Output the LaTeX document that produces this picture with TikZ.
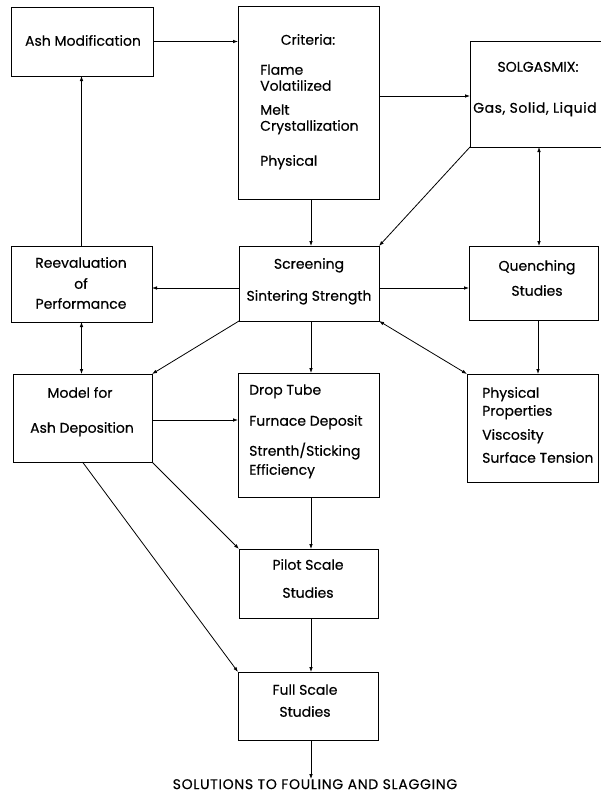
\documentclass[tikz,border=0pt]{standalone}
\usepackage{fontspec}
\setmainfont{Poppins}[FakeBold=0.4]
\usetikzlibrary{arrows.meta}
\begin{document}
\begin{tikzpicture}[x=1pt,y=-1pt,
  box/.style={draw,line width=0.9pt,inner sep=0pt,outer sep=0pt},
  arr/.style={line width=0.8pt,-{Latex[length=5pt,width=3.6pt]}},
  darr/.style={line width=0.8pt,{Latex[length=5pt,width=3.6pt]}-{Latex[length=5pt,width=3.6pt]}},
  txt/.style={inner sep=0pt,anchor=mid,font=\fontsize{14}{16}\selectfont},
  ltxt/.style={txt,anchor=mid west}]
\clip (0,0) rectangle (601,795);
\useasboundingbox (0,0) rectangle (601,795);
% boxes
\node[box,minimum width=142pt,minimum height=69pt] (ash) at (82,41.5) {};
\node[box,minimum width=141pt,minimum height=193pt] (crit) at (308.5,102.5) {};
\node[box,minimum width=145pt,minimum height=106pt] (sol) at (542.5,94) {};
\node[box,minimum width=141pt,minimum height=76pt] (reev) at (81.5,284) {};
\node[box,minimum width=140pt,minimum height=75pt] (scr) at (309,283.5) {};
\node[box,minimum width=129pt,minimum height=74pt] (que) at (533.5,283) {};
\node[box,minimum width=139pt,minimum height=88pt] (model) at (82.5,418) {};
\node[box,minimum width=141pt,minimum height=124pt] (drop) at (308.5,435) {};
\node[box,minimum width=131pt,minimum height=108pt] (phys) at (532.5,428) {};
\node[box,minimum width=139pt,minimum height=69pt] (pilot) at (308.5,583.5) {};
\node[box,minimum width=140pt,minimum height=68pt] (full) at (308,706) {};
% texts
\node[txt] (tash) at (83,43) {Ash Modification};
\node[txt] (tcrit) at (308,42) {Criteria:};
\node[ltxt] (tflame) at (260,72) {Flame};
\node[ltxt] (tvol) at (260,88) {Volatilized};
\node[ltxt] (tmelt) at (260,112) {Melt};
\node[ltxt] (tcry) at (260,128) {Crystallization};
\node[ltxt] (tphy) at (260,163) {Physical};
\node[txt] (tsol) at (538,69) {SOLGASMIX:};
\node[ltxt] (tgas) at (473,110) {\addfontfeature{LetterSpace=4}Gas, Solid, Liquid};
\node[txt] (treev1) at (81,265) {Reevaluation};
\node[txt] (treev2) at (81,286) {of};
\node[txt] (treev3) at (81,306) {Performance};
\node[txt] (tscr1) at (309,266) {Screening};
\node[txt] (tscr2) at (309,298) {Sintering Strength};
\node[txt] (tque1) at (537,268) {Quenching};
\node[txt] (tque2) at (537,293) {Studies};
\node[txt] (tmod1) at (80,395) {Model for};
\node[txt] (tmod2) at (82,430) {Ash Deposition};
\node[ltxt] (tdrop1) at (249,392) {Drop Tube};
\node[ltxt] (tdrop2) at (249,423) {Furnace Deposit};
\node[ltxt] (tdrop3) at (249,453) {Strenth/Sticking};
\node[ltxt] (tdrop4) at (249,472) {Efficiency};
\node[ltxt] (tphys1) at (482,395) {Physical};
\node[ltxt] (tphys2) at (482,413) {Properties};
\node[ltxt] (tphys3) at (482,437) {Viscosity};
\node[ltxt] (tphys4) at (482,460) {Surface Tension};
\node[txt] (tpil1) at (308,567) {Pilot Scale};
\node[txt] (tpil2) at (308,595) {Studies};
\node[txt] (tful1) at (305,692) {Full Scale};
\node[txt] (tful2) at (305,714) {Studies};
\node[txt,anchor=north] (tend) at (315,779) {\addfontfeature{LetterSpace=5}SOLUTIONS TO FOULING AND SLAGGING};
% helper coordinates
\coordinate (x539) at (539,0);
\coordinate (x538) at (538,0);
\coordinate (x311) at (311,0);
\coordinate (y288) at (0,288);
\coordinate (y96) at (0,96);
\coordinate (y420) at (0,420);
% connectors
\draw[arr] (ash.east) -- (ash.east -| crit.west);
\draw[arr] (crit.east |- y96) -- (sol.west |- y96);
\draw[arr] (crit.south -| x311) -- (scr.north -| x311);
\draw[arr] (sol.south west) -- (scr.north east);
\draw[darr] (sol.south -| x539) -- (que.north -| x539);
\draw[arr] (scr.west |- y288) -- (reev.east |- y288);
\draw[arr] (scr.east |- y288) -- (que.west |- y288);
\draw[arr] (reev.north) -- (reev.north |- ash.south);
\draw[darr] (reev.south) -- (reev.south |- model.north);
\draw[arr] (scr.south west) -- (model.north east);
\draw[arr] (scr.south -| x311) -- (drop.north -| x311);
\draw[darr] (scr.south east) -- (phys.north west);
\draw[arr] (que.south -| x538) -- (phys.north -| x538);
\draw[arr] (model.east |- y420) -- (drop.west |- y420);
\draw[arr] (model.south east) -- (pilot.north west);
\draw[arr] (model.south) -- (full.north west);
\draw[arr] (drop.south -| x311) -- (pilot.north -| x311);
\draw[arr] (pilot.south -| x311) -- (full.north -| x311);
\draw[arr] (full.south -| x311) -- (tend.north -| x311);
\end{tikzpicture}
\end{document}
